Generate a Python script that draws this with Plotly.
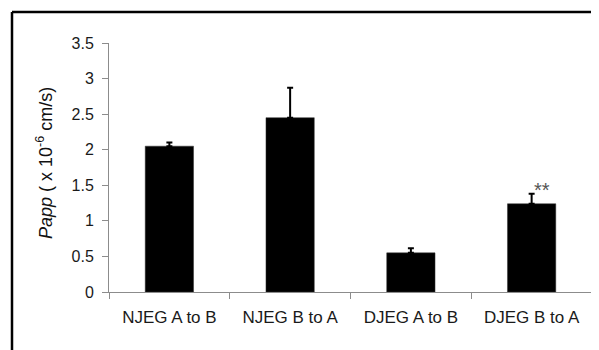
import plotly.graph_objects as go

categories = ["NJEG A to B", "NJEG B to A", "DJEG A to B", "DJEG B to A"]
papp_values = [2.05, 2.45, 0.55, 1.24]
papp_errors = [0.05, 0.42, 0.065, 0.14]
y_ticks = [0, 0.5, 1, 1.5, 2, 2.5, 3, 3.5]
y_tick_labels = ["0", "0.5", "1", "1.5", "2", "2.5", "3", "3.5"]
sig_label = "**"
sig_category = "DJEG B to A"
sig_y = 1.43

FONT = "Arial, Liberation Sans, sans-serif"
AXIS_GREY = "#8c8c8c"

# page has an 8px body margin; plot area target: x 109..592, y 43..292 (page px)
PLOT_W, PLOT_H = 483, 249
ML, MT = 101, 35

fig = go.Figure()
fig.add_trace(go.Bar(
    x=categories,
    y=papp_values,
    width=0.4,
    marker=dict(color="black", line=dict(color="#333333", width=0.5)),
    error_y=dict(type="data", symmetric=False, array=papp_errors,
                 arrayminus=[0] * len(papp_errors),
                 color="black", thickness=2, width=3),
    showlegend=False,
))

fig.update_layout(
    width=599, height=350,
    margin=dict(l=ML, r=599 - ML - PLOT_W, t=MT, b=350 - MT - PLOT_H, autoexpand=False),
    paper_bgcolor="white", plot_bgcolor="white",
    font=dict(family=FONT, color="#1a1a1a"),
    xaxis=dict(
        type="category", tickson="boundaries", ticks="outside", ticklen=6,
        tickcolor=AXIS_GREY, tickwidth=1, showline=True, linecolor=AXIS_GREY,
        linewidth=1, showgrid=False, tickfont=dict(size=17, color="#1a1a1a"),
        ticklabelstandoff=10, range=[-0.5, 3.5], automargin=False,
    ),
    yaxis=dict(
        range=[0, 3.5], tickvals=y_ticks, ticktext=y_tick_labels,
        ticks="outside", ticklen=6, tickcolor=AXIS_GREY, tickwidth=1,
        showline=True, linecolor=AXIS_GREY, linewidth=1, showgrid=False,
        zeroline=False, tickfont=dict(size=16, color="#1a1a1a"),
        ticklabelstandoff=5, automargin=False,
    ),
)

fig.add_annotation(
    text="<i>Papp</i> ( x 10<sup>-6</sup> cm/s)",
    xref="paper", yref="paper", x=-65 / PLOT_W, y=(292 - 163) / PLOT_H,
    xanchor="center", yanchor="middle", textangle=-90, showarrow=False,
    font=dict(size=18, color="#111111", family=FONT),
)

fig.add_annotation(
    text=sig_label, x=sig_category, y=sig_y, xref="x", yref="y",
    xshift=10, showarrow=False, font=dict(size=20, color="#555555", family=FONT),
)

# frame lines (top and left visible) at page px 12
fx = (12 - 109) / PLOT_W
fy = (292 - 12) / PLOT_H
fig.add_shape(type="line", xref="paper", yref="paper",
              x0=fx, x1=1.2, y0=fy, y1=fy,
              line=dict(color="black", width=2.5))
fig.add_shape(type="line", xref="paper", yref="paper",
              x0=fx, x1=fx, y0=-0.5, y1=fy,
              line=dict(color="black", width=2.5))

fig.write_html("out.html")
